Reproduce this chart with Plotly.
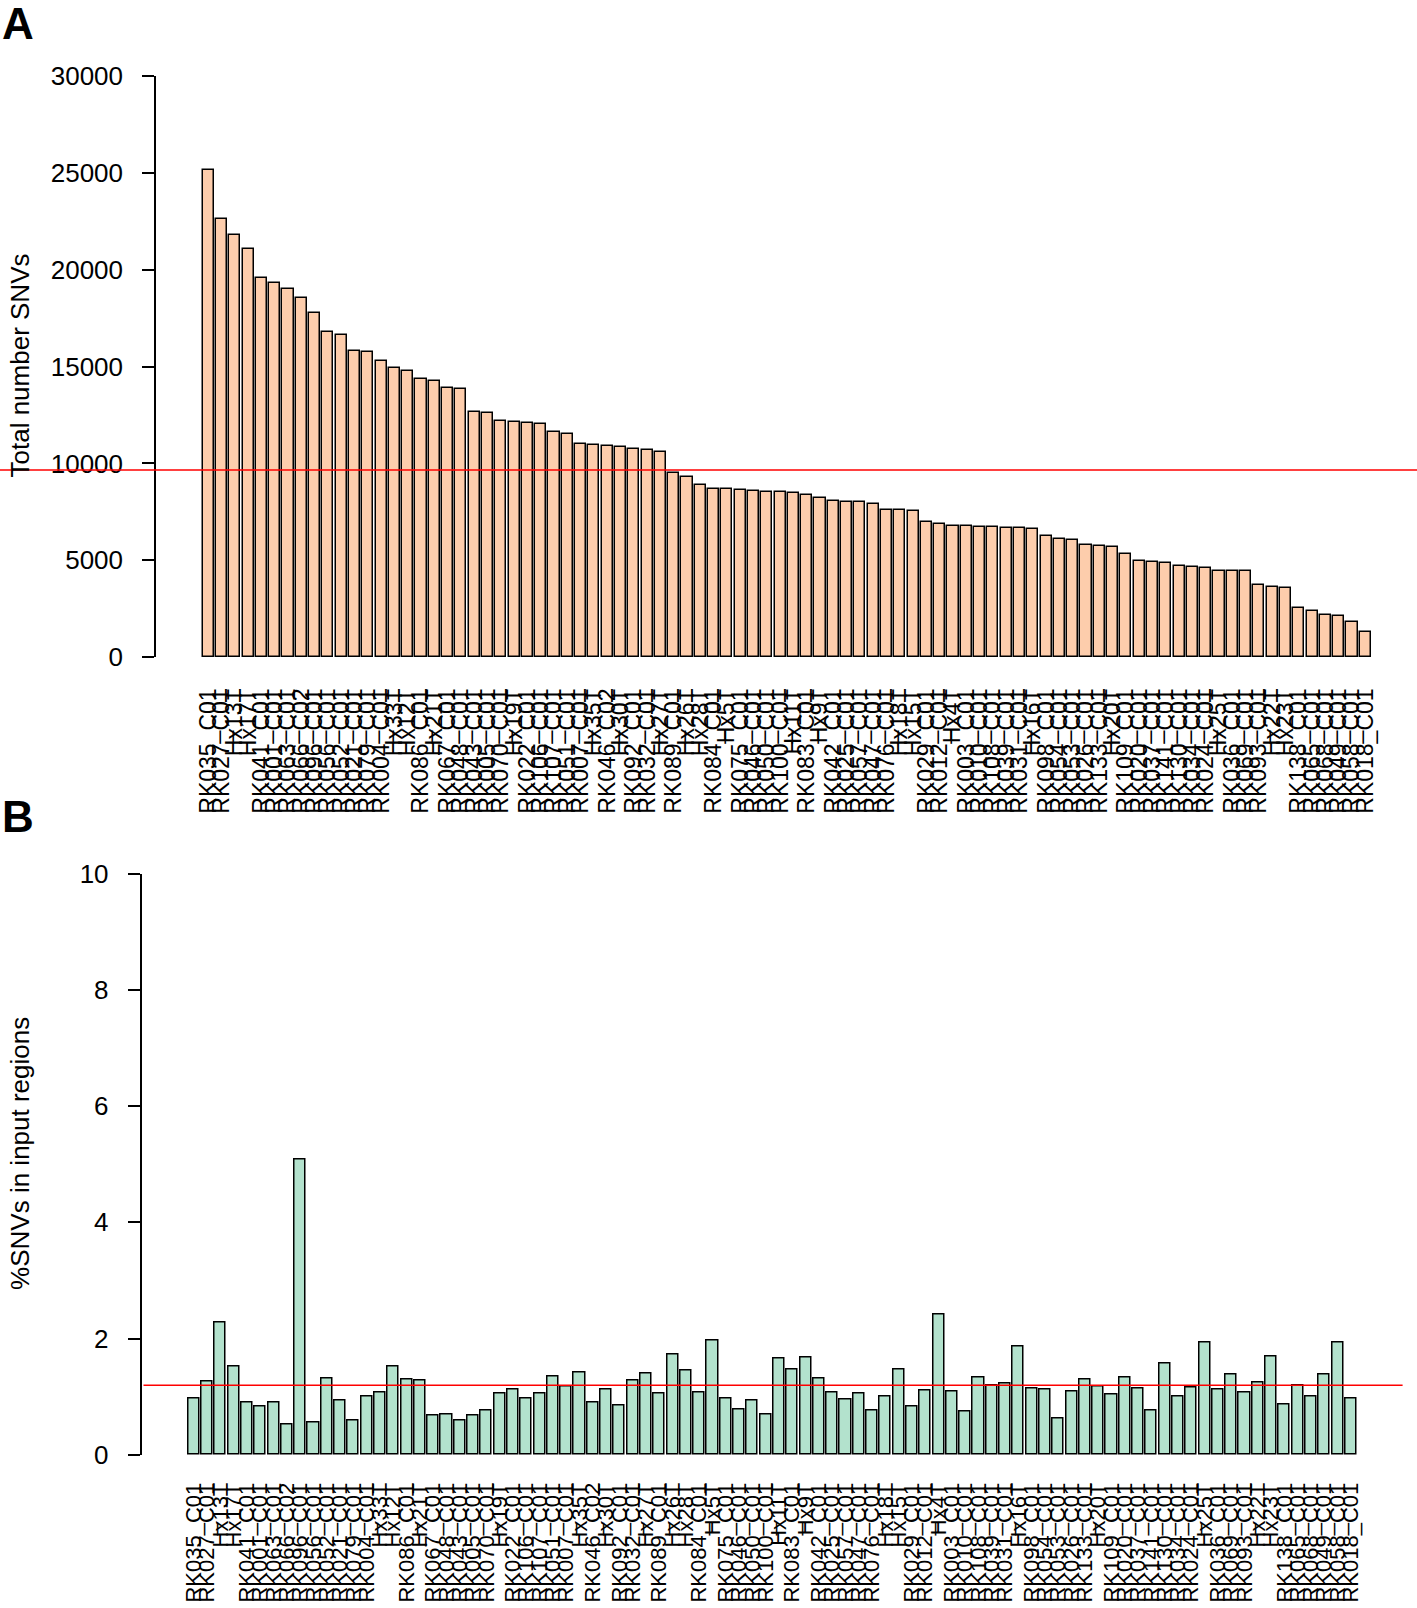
import plotly.graph_objects as go

samples = [
    "RK035_C01", "RK027_C01", "Hx13T", "Hx17T", "RK041_C01", "RK001_C01", "RK063_C01", "RK066_C02",
    "RK096_C01", "RK056_C01", "RK052_C01", "RK021_C01", "RK079_C01", "RK004_C01", "Hx33T", "Hx12T",
    "RK086_C01", "Hx21T", "RK067_C01", "RK048_C01", "RK043_C01", "RK005_C01", "RK070_C01", "Hx19T",
    "RK022_C01", "RK106_C01", "RK107_C01", "RK051_C01", "RK007_C01", "Hx35T", "RK046_C02", "Hx30T",
    "RK092_C01", "RK032_C01", "Hx27T", "RK089_C01", "Hx26T", "Hx28T", "RK084_C01", "Hx5T",
    "RK075_C01", "RK046_C01", "RK050_C01", "RK100_C01", "Hx11T", "RK083_C01", "Hx9T", "RK042_C01",
    "RK025_C01", "RK057_C01", "RK047_C01", "RK076_C01", "Hx18T", "Hx15T", "RK029_C01", "RK012_C01",
    "Hx4T", "RK003_C01", "RK010_C01", "RK108_C01", "RK039_C01", "RK031_C01", "Hx16T", "RK098_C01",
    "RK054_C01", "RK053_C01", "RK026_C01", "RK133_C01", "Hx20T", "RK109_C01", "RK020_C01", "RK037_C01",
    "RK141_C01", "RK130_C01", "RK034_C01", "RK024_C01", "Hx25T", "RK036_C01", "RK069_C01", "RK093_C01",
    "Hx22T", "Hx23T", "RK138_C01", "RK065_C01", "RK068_C01", "RK049_C01", "RK058_C01", "RK018_C01",
]

total_snvs = [
    25140, 22630, 21770, 21050, 19580, 19320, 19010, 18540, 17780, 16800, 16620, 15800, 15750, 15280,
    14910, 14790, 14370, 14270, 13910, 13840, 12640, 12600, 12200, 12120, 12100, 12020, 11620, 11500,
    11020, 10950, 10910, 10830, 10740, 10690, 10620, 9520, 9300, 8890, 8680, 8680, 8640, 8570, 8540,
    8540, 8490, 8370, 8220, 8080, 8040, 8030, 7900, 7600, 7600, 7560, 6990, 6860, 6790, 6770, 6700,
    6700, 6670, 6650, 6600, 6250, 6120, 6050, 5790, 5740, 5670, 5340, 4950, 4910, 4880, 4700, 4650,
    4620, 4460, 4430, 4430, 3710, 3610, 3560, 2550, 2400, 2190, 2140, 1800, 1320,
]

pct_in_regions = [
    0.97, 1.26, 2.27, 1.52, 0.90, 0.84, 0.90, 0.53, 5.08, 0.56, 1.31, 0.93, 0.60, 1.00, 1.08, 1.52,
    1.29, 1.28, 0.67, 0.70, 0.59, 0.67, 0.77, 1.05, 1.13, 0.97, 1.06, 1.35, 1.18, 1.41, 0.90, 1.12,
    0.85, 1.28, 1.40, 1.05, 1.72, 1.46, 1.08, 1.96, 0.97, 0.78, 0.94, 0.70, 1.65, 1.47, 1.67, 1.31,
    1.07, 0.96, 1.05, 0.76, 1.01, 1.47, 0.84, 1.11, 2.41, 1.09, 0.74, 1.33, 1.19, 1.23, 1.87, 1.14,
    1.12, 0.62, 1.09, 1.29, 1.17, 1.04, 1.33, 1.14, 0.76, 1.57, 1.00, 1.16, 1.93, 1.12, 1.39, 1.08,
    1.24, 1.69, 0.86, 1.20, 1.00, 1.38, 1.94, 0.97,
]

ref_total = 9660
ref_pct = 1.20

yticks_a = [0, 5000, 10000, 15000, 20000, 25000, 30000]
yticks_b = [0, 2, 4, 6, 8, 10]

W, H = 1417, 1608
FONT = "Liberation Sans, Arial, Helvetica, sans-serif"
period = 13.3

def px_x(p):
    return p / W

def px_y(p):
    return 1 - p / H

idx = list(range(len(samples)))

# Panel A geometry (pixels)
a_left, a_right = 156.0, 1400.0
a_c0 = 208.2
a_x0 = -(a_c0 - a_left) / period
a_x1 = a_x0 + (a_right - a_left) / period
a_ybot, a_ytop = 657.2, 75.9

# Panel B geometry
b_left, b_right = 141.5, 1400.0
b_c0 = 193.8
b_x0 = -(b_c0 - b_left) / period
b_x1 = b_x0 + (b_right - b_left) / period
b_ybot, b_ytop = 1454.9, 873.5

fig = go.Figure()
fig.add_trace(go.Bar(x=idx, y=total_snvs, xaxis="x", yaxis="y", width=1 / 1.2,
                     marker=dict(color="#FDCDAC", line=dict(color="black", width=1.5)),
                     showlegend=False))
fig.add_trace(go.Bar(x=idx, y=pct_in_regions, xaxis="x2", yaxis="y2", width=1 / 1.2,
                     marker=dict(color="#B3E2CD", line=dict(color="black", width=1.5)),
                     showlegend=False))

xcommon = dict(tickmode="array", tickvals=idx, ticktext=samples, tickangle=-90,
               showgrid=False, zeroline=False, showline=False, ticks="outside",
               tickcolor="rgba(0,0,0,0)", automargin=False, fixedrange=True)
ycommon = dict(showgrid=False, zeroline=False, showline=True, linecolor="black", linewidth=1.5,
               ticks="outside", ticklen=12, tickwidth=1.5, tickcolor="black",
               tickfont=dict(family=FONT, size=26, color="black"), automargin=False,
               ticklabelstandoff=14)

fig.update_layout(
    width=W, height=H, autosize=False,
    margin=dict(l=0, r=0, t=0, b=0, pad=0),
    paper_bgcolor="white", plot_bgcolor="white",
    bargap=0,
    xaxis=dict(domain=[px_x(a_left), px_x(a_right)], range=[a_x0, a_x1], anchor="y",
               ticklen=21, tickfont=dict(family=FONT, size=23, color="black"), **xcommon),
    yaxis=dict(domain=[px_y(a_ybot), px_y(a_ytop)], range=[0, 30000], anchor="x",
               tickvals=yticks_a, ticktext=[str(v) for v in yticks_a], **ycommon),
    xaxis2=dict(domain=[px_x(b_left), px_x(b_right)], range=[b_x0, b_x1], anchor="y2",
                ticklen=18, tickfont=dict(family=FONT, size=22, color="black"), **xcommon),
    yaxis2=dict(domain=[px_y(b_ybot), px_y(b_ytop)], range=[0, 10], anchor="x2",
                tickvals=yticks_b, ticktext=[str(v) for v in yticks_b], **ycommon),
)

fig.add_shape(type="line", xref="paper", yref="y", x0=0, x1=1, y0=ref_total, y1=ref_total,
              line=dict(color="#FF0000", width=1.5))
fig.add_shape(type="line", xref="paper", yref="y2", x0=px_x(143.5), x1=px_x(1402.6),
              y0=ref_pct, y1=ref_pct, line=dict(color="#FF0000", width=1.5))

fig.add_annotation(text="Total number SNVs", textangle=-90, xref="paper", yref="paper",
                   x=px_x(19), y=px_y(365.5), xanchor="center", yanchor="middle", showarrow=False,
                   font=dict(family=FONT, size=26, color="black"))
fig.add_annotation(text="%SNVs in input regions", textangle=-90, xref="paper", yref="paper",
                   x=px_x(20.5), y=px_y(1153.4), xanchor="center", yanchor="middle", showarrow=False,
                   font=dict(family=FONT, size=26, color="black"))
fig.add_annotation(text="<b>A</b>", xref="paper", yref="paper", x=px_x(18), y=px_y(23),
                   xanchor="center", yanchor="middle", showarrow=False,
                   font=dict(family=FONT, size=44, color="black"))
fig.add_annotation(text="<b>B</b>", xref="paper", yref="paper", x=px_x(18), y=px_y(816),
                   xanchor="center", yanchor="middle", showarrow=False,
                   font=dict(family=FONT, size=44, color="black"))

fig.write_html("out.html", config={"displayModeBar": False},
               post_script="document.body.style.margin='0';")
